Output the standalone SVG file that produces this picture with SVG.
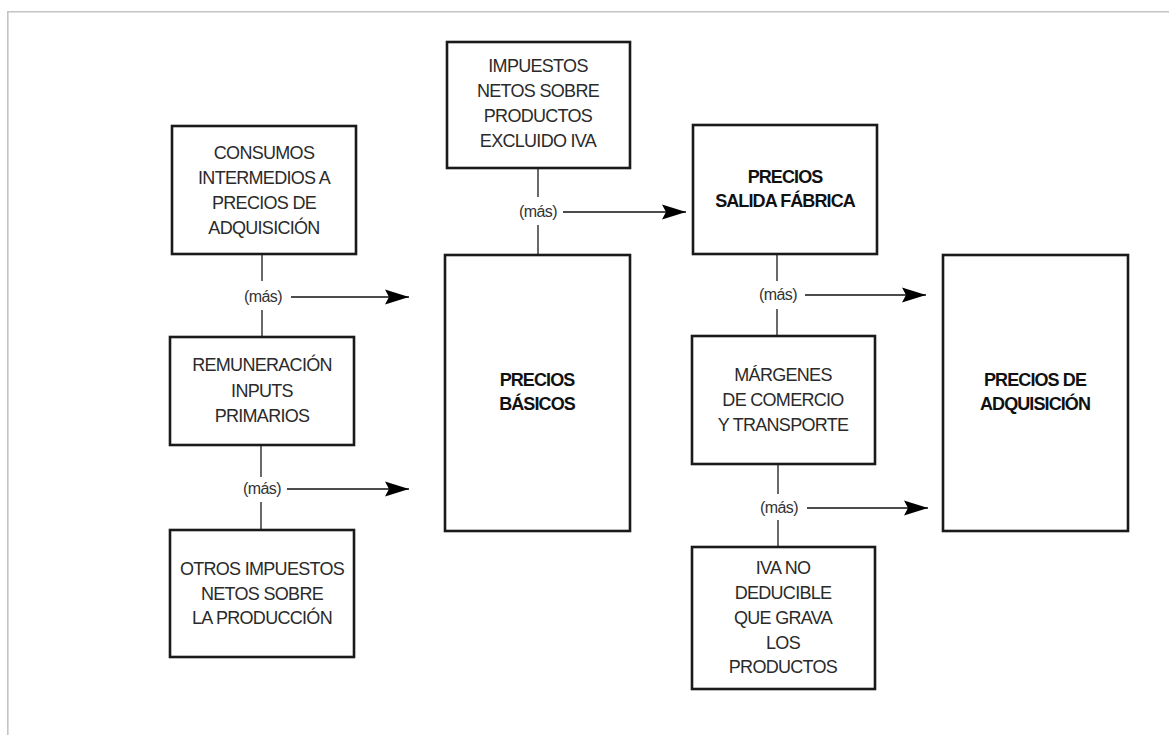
<svg xmlns="http://www.w3.org/2000/svg" width="1169" height="735" viewBox="0 0 1169 735">
<defs>
<marker id="ah" markerUnits="userSpaceOnUse" markerWidth="26" markerHeight="18" refX="24" refY="8" orient="auto" viewBox="0 0 26 16">
<path d="M0,0.5 L24,8 L0,15.5 L4,8 Z" fill="#000"/>
</marker>
</defs>
<style>
.box{fill:#fff;stroke:#1a1a1a;stroke-width:2.6}
.t{font-family:"Liberation Sans",Arial,sans-serif;font-size:18px;letter-spacing:-0.7px;fill:#2a2a2a;text-anchor:middle}
.b{font-weight:bold;fill:#111;letter-spacing:-0.9px}
.m{font-family:"Liberation Sans",Arial,sans-serif;font-size:16px;letter-spacing:-0.6px;fill:#333;text-anchor:middle}
.v{stroke:#444;stroke-width:1.6;fill:none}
.a{stroke:#111;stroke-width:1.6;fill:none;marker-end:url(#ah)}
.frame{stroke:#c4c4c4;stroke-width:1.6;fill:none}
</style>
<rect width="1169" height="735" fill="#fff"/>
<path class="frame" d="M7.8,735 L7.8,11.8 L1169,11.8"/>

<g id="connectors">
<line class="v" x1="262" y1="254" x2="262" y2="281"/>
<line class="v" x1="262" y1="310" x2="262" y2="337"/>
<line class="a" x1="291" y1="297" x2="409" y2="297"/>
<text class="m" x="263" y="302">(más)</text>

<line class="v" x1="261" y1="445" x2="261" y2="477"/>
<line class="v" x1="261" y1="502" x2="261" y2="530"/>
<line class="a" x1="287" y1="489" x2="409" y2="489"/>
<text class="m" x="262" y="494">(más)</text>

<line class="v" x1="538" y1="168" x2="538" y2="197"/>
<line class="v" x1="538" y1="225" x2="538" y2="255"/>
<line class="a" x1="563" y1="212" x2="686" y2="212"/>
<text class="m" x="538" y="217">(más)</text>

<line class="v" x1="777" y1="254" x2="777" y2="281"/>
<line class="v" x1="777" y1="309" x2="777" y2="336"/>
<line class="a" x1="805" y1="295" x2="926" y2="295"/>
<text class="m" x="778" y="300">(más)</text>

<line class="v" x1="778" y1="464" x2="778" y2="494"/>
<line class="v" x1="778" y1="520" x2="778" y2="547"/>
<line class="a" x1="807" y1="508" x2="928" y2="508"/>
<text class="m" x="779" y="513">(más)</text>
</g>

<g id="consumos">
<rect class="box" x="172" y="126" width="184" height="128"/>
<text class="t" x="264" y="159">CONSUMOS</text>
<text class="t" x="264" y="184">INTERMEDIOS A</text>
<text class="t" x="264" y="209">PRECIOS DE</text>
<text class="t" x="264" y="234">ADQUISICIÓN</text>
</g>

<g id="remuneracion">
<rect class="box" x="170" y="337" width="184" height="108"/>
<text class="t" x="262" y="371">REMUNERACIÓN</text>
<text class="t" x="262" y="397">INPUTS</text>
<text class="t" x="262" y="422">PRIMARIOS</text>
</g>

<g id="otros">
<rect class="box" x="170" y="530" width="184" height="127"/>
<text class="t" x="262" y="575">OTROS IMPUESTOS</text>
<text class="t" x="262" y="600">NETOS SOBRE</text>
<text class="t" x="262" y="624">LA PRODUCCIÓN</text>
</g>

<g id="impuestos">
<rect class="box" x="447" y="42" width="183" height="126"/>
<text class="t" x="538" y="72">IMPUESTOS</text>
<text class="t" x="538" y="97">NETOS SOBRE</text>
<text class="t" x="538" y="122">PRODUCTOS</text>
<text class="t" x="538" y="147">EXCLUIDO IVA</text>
</g>

<g id="basicos">
<rect class="box" x="445" y="255" width="185" height="276"/>
<text class="t b" x="537" y="386">PRECIOS</text>
<text class="t b" x="537" y="410">BÁSICOS</text>
</g>

<g id="salida">
<rect class="box" x="693" y="125" width="184" height="129"/>
<text class="t b" x="785" y="183">PRECIOS</text>
<text class="t b" x="785" y="207">SALIDA FÁBRICA</text>
</g>

<g id="margenes">
<rect class="box" x="692" y="336" width="183" height="128"/>
<text class="t" x="783" y="381">MÁRGENES</text>
<text class="t" x="783" y="406">DE COMERCIO</text>
<text class="t" x="783" y="431">Y TRANSPORTE</text>
</g>

<g id="iva">
<rect class="box" x="692" y="547" width="183" height="142"/>
<text class="t" x="783" y="574">IVA NO</text>
<text class="t" x="783" y="599">DEDUCIBLE</text>
<text class="t" x="783" y="624">QUE GRAVA</text>
<text class="t" x="783" y="649">LOS</text>
<text class="t" x="783" y="673">PRODUCTOS</text>
</g>

<g id="adquisicion">
<rect class="box" x="943" y="255" width="185" height="276"/>
<text class="t b" x="1035" y="386">PRECIOS DE</text>
<text class="t b" x="1035" y="410">ADQUISICIÓN</text>
</g>
</svg>
